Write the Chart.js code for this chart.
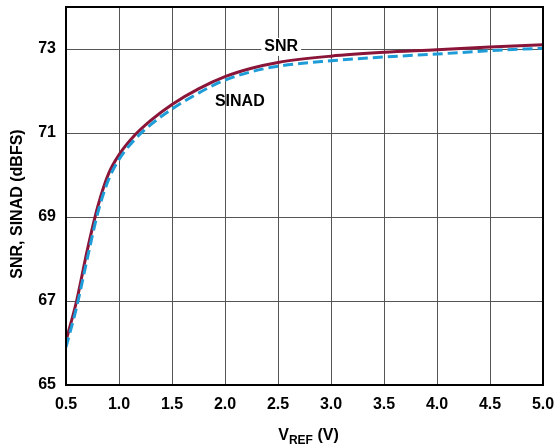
<!DOCTYPE html>
<html>
<head>
<meta charset="utf-8">
<script src="https://cdn.jsdelivr.net/npm/chart.js@4/dist/chart.umd.min.js"></script>
<style>
  html, body { margin: 0; padding: 0; background: #fff; }
  #wrap { width: 556px; height: 448px; }
</style>
</head>
<body>
<div id="wrap"><canvas id="c"></canvas></div>
<script>
// values
const vref = [0.5, 0.6, 0.7, 0.8, 0.9, 1.0, 1.15, 1.3, 1.5, 1.75, 2.0, 2.25, 2.5, 3.0, 3.5, 4.0, 4.5, 5.0];
const snr = [66.05, 67.0, 68.2, 69.25, 70.02, 70.48, 70.95, 71.3, 71.68, 72.05, 72.34, 72.54, 72.68, 72.83, 72.92, 72.98, 73.05, 73.1];
const sinad = [65.9, 66.85, 68.0, 69.1, 69.88, 70.37, 70.85, 71.2, 71.57, 71.95, 72.26, 72.46, 72.59, 72.72, 72.81, 72.88, 72.96, 73.02];
const yTicks = [65, 67, 69, 71, 73];

const FONT = 'bold 16px "Liberation Sans", Arial, sans-serif';

const decor = {
  id: 'decor',
  afterDraw(chart) {
    const ctx = chart.ctx;
    const a = chart.chartArea;
    const xs = chart.scales.x, ys = chart.scales.y;
    ctx.save();
    // frame
    ctx.strokeStyle = '#000';
    ctx.lineWidth = 2;
    ctx.strokeRect(a.left, a.top, a.right - a.left, a.bottom - a.top);

    ctx.font = FONT;
    ctx.fillStyle = '#000';
    ctx.textBaseline = 'middle';
    ctx.textAlign = 'center';
    // curve labels
    const sx = xs.getPixelForValue(2.53), sy = ys.getPixelForValue(73.05);
    const w = ctx.measureText('SNR').width;
    ctx.fillStyle = '#fff';
    ctx.fillRect(sx - w / 2 - 3, sy - 9, w + 6, 18);
    ctx.fillStyle = '#000';
    ctx.fillText('SNR', sx, sy);
    ctx.fillText('SINAD', xs.getPixelForValue(2.14), ys.getPixelForValue(71.74));

    // y title
    ctx.save();
    ctx.translate(18, (a.top + a.bottom) / 2 + 8);
    ctx.rotate(-Math.PI / 2);
    ctx.fillText('SNR, SINAD (dBFS)', 0, 0);
    ctx.restore();

    // x title with subscript
    const cx = (a.left + a.right) / 2 + 4, ty = 436;
    const sub = 'bold 12px "Liberation Sans", Arial, sans-serif';
    ctx.font = FONT;
    const wV = ctx.measureText('V').width;
    const wT = ctx.measureText(' (V)').width;
    ctx.font = sub;
    const wR = ctx.measureText('REF').width;
    let x0 = cx - (wV + wR + wT) / 2;
    ctx.textAlign = 'left';
    ctx.font = FONT;
    ctx.fillText('V', x0, ty);
    ctx.font = sub;
    ctx.fillText('REF', x0 + wV, ty + 5);
    ctx.font = FONT;
    ctx.fillText(' (V)', x0 + wV + wR, ty);
    ctx.restore();
  }
};

new Chart(document.getElementById('c'), {
  type: 'line',
  data: {
    datasets: [
      {
        label: 'SINAD',
        data: vref.map((v, i) => ({ x: v, y: sinad[i] })),
        borderColor: '#1E9CD7',
        borderWidth: 3,
        borderDash: [10, 5],
        pointRadius: 0,
        cubicInterpolationMode: 'monotone'
      },
      {
        label: 'SNR',
        data: vref.map((v, i) => ({ x: v, y: snr[i] })),
        borderColor: '#8A1538',
        borderWidth: 3,
        pointRadius: 0,
        cubicInterpolationMode: 'monotone'
      }
    ]
  },
  options: {
    responsive: true,
    maintainAspectRatio: false,
    animation: false,
    layout: { padding: { top: 7, right: 13, left: 0, bottom: 0 } },
    plugins: { legend: { display: false }, tooltip: { enabled: false } },
    scales: {
      x: {
        type: 'linear',
        min: 0.5,
        max: 5.0,
        afterFit(s) { s.height = 63; s.paddingLeft = 0; s.paddingRight = 0; },
        ticks: {
          stepSize: 0.5,
          color: '#000',
          font: { family: '"Liberation Sans", Arial, sans-serif', size: 16, weight: 'bold' },
          padding: 10,
          maxRotation: 0,
          callback: v => v.toFixed(1)
        },
        grid: { color: '#555', lineWidth: 1, drawTicks: false },
        border: { display: false }
      },
      y: {
        min: 65,
        max: 74,
        afterFit(s) { s.width = 66; s.paddingTop = 0; s.paddingBottom = 0; },
        afterBuildTicks(s) { s.ticks = yTicks.map(v => ({ value: v })); },
        ticks: {
          color: '#000',
          font: { family: '"Liberation Sans", Arial, sans-serif', size: 16, weight: 'bold' },
          padding: 10,
          callback: v => String(v)
        },
        grid: { color: '#555', lineWidth: 1, drawTicks: false },
        border: { display: false }
      }
    }
  },
  plugins: [decor]
});
</script>
</body>
</html>
